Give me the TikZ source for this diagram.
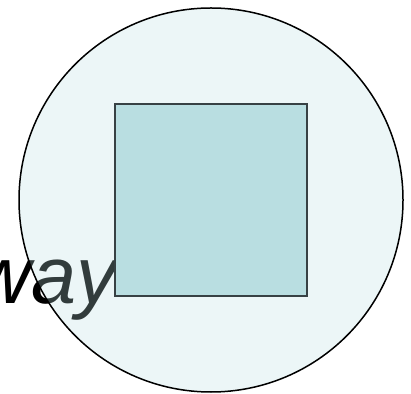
\documentclass[tikz,border=0pt]{standalone}
\usepackage{fontspec}
\setsansfont{Liberation Sans}
\usetikzlibrary{positioning}

\begin{document}
\begin{tikzpicture}[
  x=1pt,
  y=1pt,
  disc/.style={circle,draw=black,line width=1.5pt,fill=figcyan,fill opacity=0.27,
    minimum size=384pt,inner sep=0pt},
  panel/.style={rectangle,draw=figslate,line width=2pt,fill=figcyan,
    minimum width=192pt,minimum height=192pt,inner sep=0pt},
  word/.style={font=\sffamily\itshape\fontsize{81}{81}\selectfont,text=black,inner sep=0pt}
]
\definecolor{figcyan}{RGB}{185,222,225}
\definecolor{figslate}{RGB}{55,65,68}

\useasboundingbox (0,0) rectangle (411,393);
\clip (0,0) rectangle (411,393);

% clipped word behind the disc
\node[word, anchor=base east] (word) at (117,90) {way};

% outer disc and the square inside it
\node[disc] (disc) at (211,193) {};
\node[panel] (panel) at (211,193) {};
\end{tikzpicture}
\end{document}
